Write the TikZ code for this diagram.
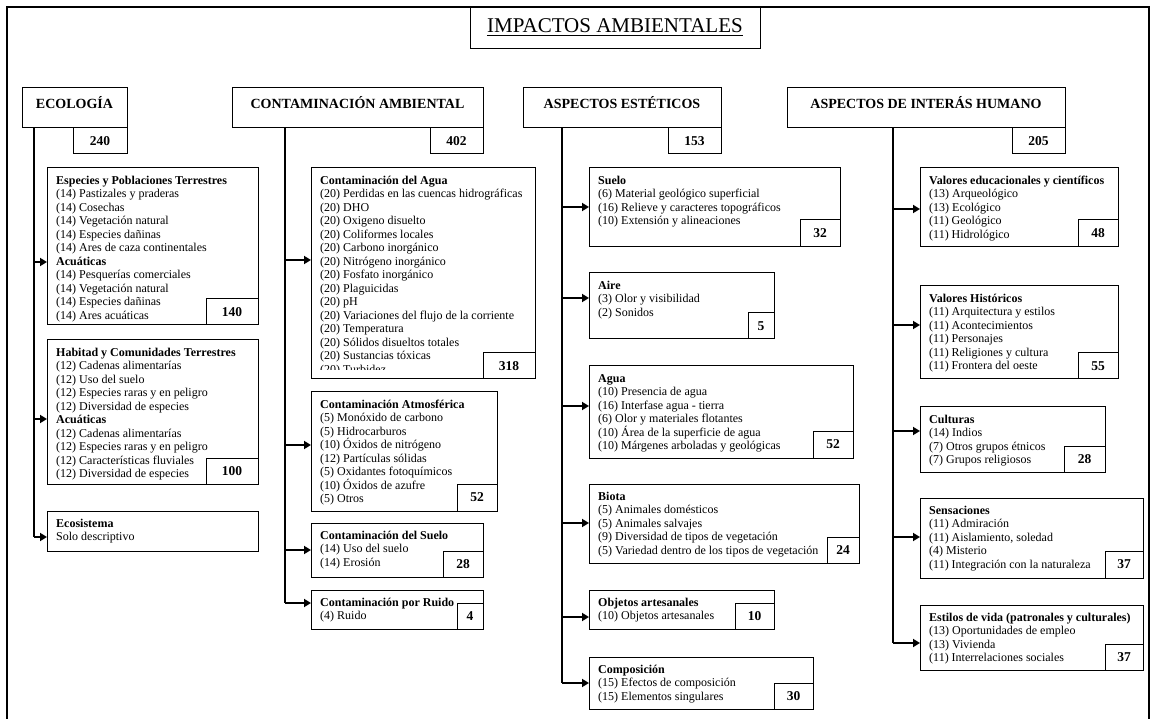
\documentclass[tikz,border=0pt]{standalone}
\usepackage{fontspec}
\setmainfont{Liberation Serif}
\usetikzlibrary{arrows.meta}

% child box: name, left, top, right, bottom, count-box left, count-box top, count, lines
\newcommand\catbox[9]{%
  \node[box, minimum width={(#4)-(#2)}, minimum height={(#5)-(#3)}] (#1) at (#2,#3) {};
  \node[numbox, minimum width={(#4)-(#6)}, minimum height={(#5)-(#7)}] (#1n) at (#1.south east) {#8};
  \node[txt] (#1t) at ({#2+9},{#3+6.5}) {\strut#9};
}
% arrow from a spine into a box at height #3
\newcommand\feed[3]{%
  \coordinate (#2a) at (#2.west |- 0,#3);
  \draw[arr] (#1 |- #2a) -- (#2a);
}
% top-level category: name, left, right, count-box left, count, title
\newcommand\headbox[6]{%
  \node[box, minimum width={(#3)-(#2)}, minimum height=40] (#1) at (#2,88) {};
  \node[numbox, anchor=north east, minimum width={(#3)-(#4)}, minimum height=26] (#1n) at (#1.south east) {#5};
  \node[htxt] (#1t) at ({(#2+#3)/2},103) {#6};
}

\begin{document}
\begin{tikzpicture}[x=1pt,y=-1pt,
  box/.style={draw, line width=1pt, inner sep=0pt, outer sep=0pt, anchor=north west},
  numbox/.style={draw, line width=1pt, inner sep=0pt, outer sep=0pt, anchor=south east,
    font=\fontsize{13.5}{15}\selectfont\bfseries},
  txt/.style={anchor=north west, inner sep=0pt, align=left,
    font=\fontsize{12}{13.5}\selectfont},
  htxt/.style={inner sep=0pt, font=\fontsize{14}{16}\selectfont\bfseries},
  arr/.style={line width=1.8pt, -{Triangle[length=7pt,width=8pt]}},
  spine/.style={line width=1.4pt},
  frame/.style={line width=1.5pt}]

\useasboundingbox[fill=white] (0,0) rectangle (1152,719);

% outer frame, open at the bottom
\draw[frame] (7,719) -- (7,7) -- (1149,7) -- (1149,719);

% title
\node[box, minimum width=290, minimum height=42] (title) at (470,7) {};
\node[inner sep=0pt, font=\fontsize{21}{24}\selectfont] (titlet) at (615,26) {IMPACTOS AMBIENTALES};
\draw[line width=1.1pt] ([yshift=-3pt]titlet.base west) -- ([yshift=-3pt]titlet.base east);

% top-level categories
\headbox{ecol}{22}{127}{73}{240}{ECOLOGÍA}
\headbox{cont}{232}{483}{430}{402}{CONTAMINACIÓN AMBIENTAL}
\headbox{este}{523}{721}{668}{153}{ASPECTOS ESTÉTICOS}
\headbox{huma}{787}{1065}{1012}{205}{ASPECTOS DE INTERÁS HUMANO}

% ---------- Ecología ----------
\catbox{b1}{47}{168}{258}{325}{206}{299}{140}{%
\textbf{Especies y Poblaciones Terrestres}\\
(14) Pastizales y praderas\\
(14) Cosechas\\
(14) Vegetación natural\\
(14) Especies dañinas\\
(14) Ares de caza continentales\\
\textbf{Acuáticas}\\
(14) Pesquerías comerciales\\
(14) Vegetación natural\\
(14) Especies dañinas\\
(14) Ares acuáticas}
\catbox{b2}{47}{340}{258}{484}{206}{458}{100}{%
\textbf{Habitad y Comunidades Terrestres}\\
(12) Cadenas alimentarías\\
(12) Uso del suelo\\
(12) Especies raras y en peligro\\
(12) Diversidad de especies\\
\textbf{Acuáticas}\\
(12) Cadenas alimentarías\\
(12) Especies raras y en peligro\\
(12) Características fluviales\\
(12) Diversidad de especies}
\node[box, minimum width=211, minimum height=40] (b3) at (47,511) {};
\node[txt] (b3t) at (56,517.5) {\strut\textbf{Ecosistema}\\Solo descriptivo};

% ---------- Contaminación ambiental ----------
\node[box, minimum width=224, minimum height=211] (c1) at (311,168) {};
\begin{scope}
  \clip (311,168) rectangle (535,370);
  \node[txt] (c1t) at (320,174.5) {\strut\textbf{Contaminación del Agua}\\
  (20) Perdidas en las cuencas hidrográficas\\
  (20) DHO\\
  (20) Oxigeno disuelto\\
  (20) Coliformes locales\\
  (20) Carbono inorgánico\\
  (20) Nitrógeno inorgánico\\
  (20) Fosfato inorgánico\\
  (20) Plaguicidas\\
  (20) pH\\
  (20) Variaciones del flujo de la corriente\\
  (20) Temperatura\\
  (20) Sólidos disueltos totales\\
  (20) Sustancias tóxicas\\
  (20) Turbidez};
\end{scope}
\node[numbox, minimum width=52, minimum height=26] (c1n) at (c1.south east) {318};
\catbox{c2}{311}{392}{497}{511}{457}{484}{52}{%
\textbf{Contaminación Atmosférica}\\
(5) Monóxido de carbono\\
(5) Hidrocarburos\\
(10) Óxidos de nitrógeno\\
(12) Partículas sólidas\\
(5) Oxidantes fotoquímicos\\
(10) Óxidos de azufre\\
(5) Otros}
\catbox{c3}{311}{523}{483}{577}{443}{551}{28}{%
\textbf{Contaminación del Suelo}\\
(14) Uso del suelo\\
(14) Erosión}
\catbox{c4}{311}{590}{483}{629}{457}{603}{4}{%
\textbf{Contaminación por Ruido}\\
(4) Ruido}

% ---------- Aspectos estéticos ----------
\catbox{d1}{589}{168}{840}{247}{800}{220}{32}{%
\textbf{Suelo}\\
(6) Material geológico superficial\\
(16) Relieve y caracteres topográficos\\
(10) Extensión y alineaciones}
\catbox{d2}{589}{273}{774}{339}{748}{313}{5}{%
\textbf{Aire}\\
(3) Olor y visibilidad\\
(2) Sonidos}
\catbox{d3}{589}{366}{853}{458}{813}{431}{52}{%
\textbf{Agua}\\
(10) Presencia de agua\\
(16) Interfase agua - tierra\\
(6) Olor y materiales flotantes\\
(10) Área de la superficie de agua\\
(10) Márgenes arboladas y geológicas}
\catbox{d4}{589}{484}{859}{563}{827}{537}{24}{%
\textbf{Biota}\\
(5) Animales domésticos\\
(5) Animales salvajes\\
(9) Diversidad de tipos de vegetación\\
(5) Variedad dentro de los tipos de vegetación}
\catbox{d5}{589}{590}{774}{629}{735}{603}{10}{%
\textbf{Objetos artesanales}\\
(10) Objetos artesanales}
\catbox{d6}{589}{657}{813}{709}{774}{683}{30}{%
\textbf{Composición}\\
(15) Efectos de composición\\
(15) Elementos singulares}

% ---------- Aspectos de interés humano ----------
\catbox{e1}{920}{168}{1118}{247}{1078}{220}{48}{%
\textbf{Valores educacionales y científicos}\\
(13) Arqueológico\\
(13) Ecológico\\
(11) Geológico\\
(11) Hidrológico}
\catbox{e2}{920}{286}{1118}{379}{1078}{353}{55}{%
\textbf{Valores Históricos}\\
(11) Arquitectura y estilos\\
(11) Acontecimientos\\
(11) Personajes\\
(11) Religiones y cultura\\
(11) Frontera del oeste}
\catbox{e3}{920}{407}{1105}{472}{1064}{446}{28}{%
\textbf{Culturas}\\
(14) Indios\\
(7) Otros grupos étnicos\\
(7) Grupos religiosos}
\catbox{e4}{920}{498}{1143}{578}{1105}{551}{37}{%
\textbf{Sensaciones}\\
(11) Admiración\\
(11) Aislamiento, soledad\\
(4) Misterio\\
(11) Integración con la naturaleza}
\catbox{e5}{920}{605}{1143}{670}{1105}{644}{37}{%
\textbf{Estilos de vida (patronales y culturales)}\\
(13) Oportunidades de empleo\\
(13) Vivienda\\
(11) Interrelaciones sociales}

% spines under each category
\coordinate (s1) at (34,128);
\coordinate (s2) at (285,128);
\coordinate (s3) at (562,128);
\coordinate (s4) at (893,128);

\feed{s1}{b1}{262}
\feed{s1}{b2}{419}
\feed{s1}{b3}{537}
\feed{s2}{c1}{260}
\feed{s2}{c2}{445}
\feed{s2}{c3}{550}
\feed{s2}{c4}{603}
\feed{s3}{d1}{207}
\feed{s3}{d2}{298}
\feed{s3}{d3}{406}
\feed{s3}{d4}{523}
\feed{s3}{d5}{617}
\feed{s3}{d6}{683}
\feed{s4}{e1}{209}
\feed{s4}{e2}{325}
\feed{s4}{e3}{431}
\feed{s4}{e4}{537}
\feed{s4}{e5}{643}

\draw[spine] (s1) -- (s1 |- b3a);
\draw[spine] (s2) -- (s2 |- c4a);
\draw[spine] (s3) -- (s3 |- d6a);
\draw[spine] (s4) -- (s4 |- e5a);

\end{tikzpicture}
\end{document}
